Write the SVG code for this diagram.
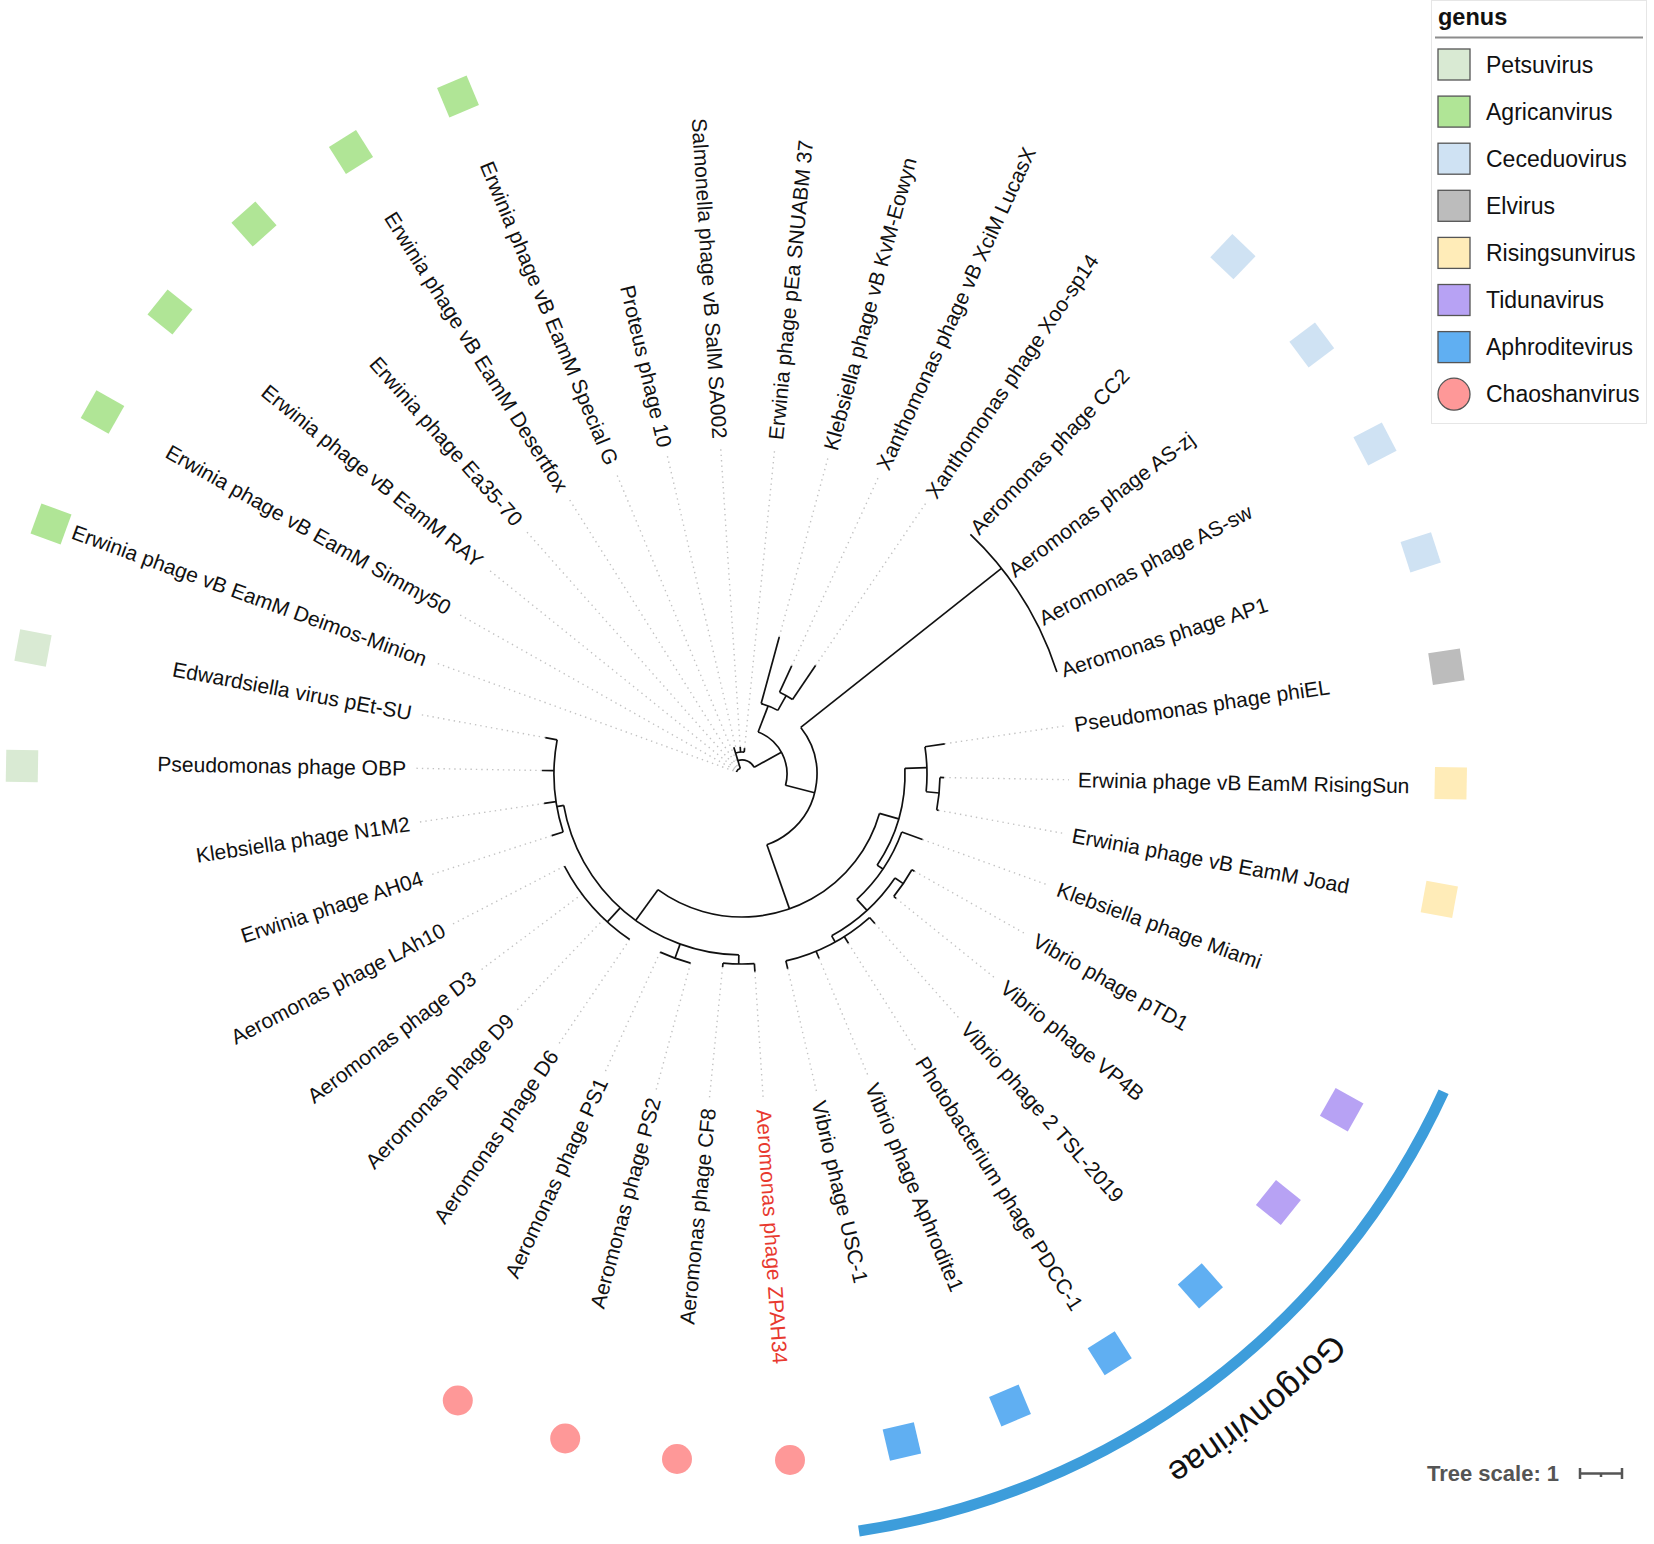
<svg xmlns="http://www.w3.org/2000/svg" width="1654" height="1544" viewBox="0 0 1654 1544">
<style>
text{font-family:"Liberation Sans",Arial,sans-serif}
.lb text{font-size:21px;fill:#111;dominant-baseline:central}
.l{text-anchor:start}
.r{text-anchor:end}
.br line,.br circle{fill:none;stroke:#111;stroke-width:1.7}
.dt line{stroke:#c2c2c2;stroke-width:1.4;stroke-dasharray:1.4 4}
.pe{fill:#d9ead3}.ag{fill:#b0e596}.ce{fill:#cfe2f3}.el{fill:#bcbcbc}.rs{fill:#ffecb8}.ti{fill:#b7a2f4}.ap{fill:#60aff2}.ch{fill:#fe9898}
.sw{stroke:#555;stroke-width:1.3}
.lg{font-size:23px;fill:#111}
</style>
<rect width="1654" height="1544" fill="#fff"/>

<g id="connectors" transform="translate(742 774)">
<g class="dt">
<line x1="202" x2="327" transform="rotate(1)"/>
<line x1="200" x2="327" transform="rotate(10.47)"/>
<line x1="192" x2="327" transform="rotate(19.95)"/>
<line x1="198" x2="327" transform="rotate(29.42)"/>
<line x1="198" x2="327" transform="rotate(38.89)"/>
<line x1="200" x2="327" transform="rotate(48.37)"/>
<line x1="200" x2="327" transform="rotate(57.84)"/>
<line x1="200" x2="327" transform="rotate(67.32)"/>
<line x1="200" x2="327" transform="rotate(76.79)"/>
<line x1="198" x2="327" transform="rotate(86.26)"/>
<line x1="194" x2="327" transform="rotate(95.74)"/>
<line x1="196" x2="327" transform="rotate(105.21)"/>
<line x1="196" x2="327" transform="rotate(114.68)"/>
<line x1="200" x2="327" transform="rotate(124.16)"/>
<line x1="200" x2="327" transform="rotate(133.63)"/>
<line x1="200" x2="327" transform="rotate(143.11)"/>
<line x1="200" x2="327" transform="rotate(152.58)"/>
<line x1="200" x2="327" transform="rotate(162.05)"/>
<line x1="200" x2="327" transform="rotate(171.53)"/>
<line x1="200" x2="327" transform="rotate(181)"/>
<line x1="200" x2="327" transform="rotate(190.47)"/>
<line x1="9" x2="327" transform="rotate(199.95)"/>
<line x1="9" x2="327" transform="rotate(209.42)"/>
<line x1="9" x2="327" transform="rotate(218.89)"/>
<line x1="9" x2="327" transform="rotate(228.37)"/>
<line x1="9" x2="327" transform="rotate(237.84)"/>
<line x1="9" x2="327" transform="rotate(247.32)"/>
<line x1="28" x2="327" transform="rotate(256.79)"/>
<line x1="27" x2="327" transform="rotate(266.26)"/>
<line x1="26" x2="327" transform="rotate(275.74)"/>
<line x1="142" x2="327" transform="rotate(285.21)"/>
<line x1="119" x2="327" transform="rotate(294.68)"/>
<line x1="131" x2="327" transform="rotate(304.16)"/>
<line x1="205" x2="327" transform="rotate(351.53)"/>
</g>
<g class="br">
<line x1="14" x2="45" transform="rotate(331)"/>
<circle r="14" stroke-dasharray="19.06 3000" transform="rotate(253)"/>
<line x1="6" x2="28" transform="rotate(253)"/>
<circle r="22" stroke-dasharray="8.73 3000" transform="rotate(253)"/>
<line x1="22" x2="27" transform="rotate(266.26)"/>
<line x1="22" x2="26" transform="rotate(275.74)"/>
<circle r="6" stroke-dasharray="5.56 3000" transform="rotate(199.95)"/>
<circle r="45" stroke-dasharray="65.58 3000" transform="rotate(291)"/>
<line x1="45" x2="73" transform="rotate(291)"/>
<circle r="73" stroke-dasharray="18.08 3000" transform="rotate(285.21)"/>
<line x1="73" x2="142" transform="rotate(285.21)"/>
<line x1="73" x2="90" transform="rotate(299.4)"/>
<circle r="90" stroke-dasharray="14.89 3000" transform="rotate(294.68)"/>
<line x1="90" x2="119" transform="rotate(294.68)"/>
<line x1="90" x2="131" transform="rotate(304.16)"/>
<line x1="45" x2="75" transform="rotate(14.5)"/>
<circle r="75" stroke-dasharray="142.68 3000" transform="rotate(321.6)"/>
<line x1="75" x2="331" transform="rotate(321.6)"/>
<circle r="331" stroke-dasharray="164.19 3000" transform="rotate(313.63)"/>
<line x1="75" x2="143" transform="rotate(70.6)"/>
<circle r="143" stroke-dasharray="274.53 3000" transform="rotate(16)"/>
<line x1="143" x2="181" transform="rotate(126)"/>
<circle r="181" stroke-dasharray="249.57 3000" transform="rotate(91)"/>
<line x1="181" x2="188" transform="rotate(170)"/>
<circle r="188" stroke-dasharray="93.25 3000" transform="rotate(162.05)"/>
<line x1="188" x2="200" transform="rotate(162.05)"/>
<line x1="188" x2="200" transform="rotate(171.53)"/>
<line x1="188" x2="200" transform="rotate(181)"/>
<line x1="188" x2="200" transform="rotate(190.47)"/>
<line x1="181" x2="200" transform="rotate(132.3)"/>
<circle r="200" stroke-dasharray="99.21 3000" transform="rotate(124.16)"/>
<line x1="181" x2="196" transform="rotate(110)"/>
<circle r="196" stroke-dasharray="32.4 3000" transform="rotate(105.21)"/>
<line x1="181" x2="190" transform="rotate(91)"/>
<circle r="190" stroke-dasharray="31.44 3000" transform="rotate(86.26)"/>
<line x1="190" x2="198" transform="rotate(86.26)"/>
<line x1="190" x2="194" transform="rotate(95.74)"/>
<line x1="143" x2="163" transform="rotate(16)"/>
<circle r="163" stroke-dasharray="102.42 3000" transform="rotate(358)"/>
<line x1="163" x2="185" transform="rotate(358)"/>
<circle r="185" stroke-dasharray="45.11 3000" transform="rotate(351.53)"/>
<line x1="185" x2="205" transform="rotate(351.53)"/>
<line x1="185" x2="198" transform="rotate(5.5)"/>
<circle r="198" stroke-dasharray="32.73 3000" transform="rotate(1)"/>
<line x1="198" x2="202" transform="rotate(1)"/>
<line x1="198" x2="200" transform="rotate(10.47)"/>
<line x1="163" x2="170" transform="rotate(34)"/>
<circle r="170" stroke-dasharray="81.74 3000" transform="rotate(19.95)"/>
<line x1="170" x2="192" transform="rotate(19.95)"/>
<line x1="170" x2="185" transform="rotate(47.5)"/>
<circle r="185" stroke-dasharray="86.53 3000" transform="rotate(34.2)"/>
<line x1="185" x2="195" transform="rotate(34.2)"/>
<circle r="195" stroke-dasharray="32.23 3000" transform="rotate(29.42)"/>
<line x1="195" x2="198" transform="rotate(29.42)"/>
<line x1="195" x2="198" transform="rotate(38.89)"/>
<line x1="185" x2="192" transform="rotate(61)"/>
<circle r="192" stroke-dasharray="95.24 3000" transform="rotate(48.37)"/>
<line x1="192" x2="200" transform="rotate(48.37)"/>
<line x1="192" x2="200" transform="rotate(57.84)"/>
<line x1="192" x2="200" transform="rotate(67.32)"/>
<line x1="192" x2="200" transform="rotate(76.79)"/>
</g>
</g>

<g class="lb">
<g id="leaf-RisingSun"><text class="l" transform="translate(742 774) rotate(1) translate(336 0)">Erwinia phage vB EamM RisingSun</text><rect class="rs" x="-16" y="-16" width="32" height="32" transform="translate(1450.7 783.3) rotate(1)"/></g>
<g id="leaf-Joad"><text class="l" transform="translate(742 774) rotate(10.47) translate(336 0)">Erwinia phage vB EamM Joad</text><rect class="rs" x="-16" y="-16" width="32" height="32" transform="translate(1439.3 899.3) rotate(10.47)"/></g>
<g id="leaf-Miami"><text class="l" transform="translate(742 774) rotate(19.95) translate(336 0)">Klebsiella phage Miami</text></g>
<g id="leaf-pTD1"><text class="l" transform="translate(742 774) rotate(29.42) translate(336 0)">Vibrio phage pTD1</text><rect class="ti" x="-16" y="-16" width="32" height="32" transform="translate(1341.7 1109.7) rotate(29.42)"/></g>
<g id="leaf-VP4B"><text class="l" transform="translate(742 774) rotate(38.89) translate(336 0)">Vibrio phage VP4B</text><rect class="ti" x="-16" y="-16" width="32" height="32" transform="translate(1278.4 1202.5) rotate(38.89)"/></g>
<g id="leaf-TSL2019"><text class="l" transform="translate(742 774) rotate(48.37) translate(336 0)">Vibrio phage 2 TSL-2019</text><rect class="ap" x="-16" y="-16" width="32" height="32" transform="translate(1200.4 1285.8) rotate(48.37)"/></g>
<g id="leaf-PDCC1"><text class="l" transform="translate(742 774) rotate(57.84) translate(336 0)">Photobacterium phage PDCC-1</text><rect class="ap" x="-16" y="-16" width="32" height="32" transform="translate(1109.7 1353.3) rotate(57.84)"/></g>
<g id="leaf-Aphrodite1"><text class="l" transform="translate(742 774) rotate(67.32) translate(336 0)">Vibrio phage Aphrodite1</text><rect class="ap" x="-16" y="-16" width="32" height="32" transform="translate(1010 1405.5) rotate(67.32)"/></g>
<g id="leaf-USC1"><text class="l" transform="translate(742 774) rotate(76.79) translate(336 0)">Vibrio phage USC-1</text><rect class="ap" x="-16" y="-16" width="32" height="32" transform="translate(901.9 1441.5) rotate(76.79)"/></g>
<g id="leaf-ZPAH34"><text class="l" style="fill:#e8392f" transform="translate(742 774) rotate(86.26) translate(336 0)">Aeromonas phage ZPAH34</text><circle class="ch" r="15" cx="790" cy="1460"/></g>
<g id="leaf-CF8"><text class="r" transform="translate(742 774) rotate(95.74) translate(336 0) rotate(180)">Aeromonas phage CF8</text><circle class="ch" r="15" cx="677" cy="1459"/></g>
<g id="leaf-PS2"><text class="r" transform="translate(742 774) rotate(105.21) translate(336 0) rotate(180)">Aeromonas phage PS2</text><circle class="ch" r="15" cx="565.2" cy="1438.5"/></g>
<g id="leaf-PS1"><text class="r" transform="translate(742 774) rotate(114.68) translate(336 0) rotate(180)">Aeromonas phage PS1</text><circle class="ch" r="15" cx="457.8" cy="1400.5"/></g>
<g id="leaf-D6"><text class="r" transform="translate(742 774) rotate(124.16) translate(336 0) rotate(180)">Aeromonas phage D6</text></g>
<g id="leaf-D9"><text class="r" transform="translate(742 774) rotate(133.63) translate(336 0) rotate(180)">Aeromonas phage D9</text></g>
<g id="leaf-D3"><text class="r" transform="translate(742 774) rotate(143.11) translate(336 0) rotate(180)">Aeromonas phage D3</text></g>
<g id="leaf-LAh10"><text class="r" transform="translate(742 774) rotate(152.58) translate(336 0) rotate(180)">Aeromonas phage LAh10</text></g>
<g id="leaf-AH04"><text class="r" transform="translate(742 774) rotate(162.05) translate(336 0) rotate(180)">Erwinia phage AH04</text></g>
<g id="leaf-N1M2"><text class="r" transform="translate(742 774) rotate(171.53) translate(336 0) rotate(180)">Klebsiella phage N1M2</text></g>
<g id="leaf-OBP"><text class="r" transform="translate(742 774) rotate(181) translate(336 0) rotate(180)">Pseudomonas phage OBP</text><rect class="pe" x="-16" y="-16" width="32" height="32" transform="translate(22 766) rotate(181)"/></g>
<g id="leaf-pEtSU"><text class="r" transform="translate(742 774) rotate(190.47) translate(336 0) rotate(180)">Edwardsiella virus pEt-SU</text><rect class="pe" x="-16" y="-16" width="32" height="32" transform="translate(33 648) rotate(190.47)"/></g>
<g id="leaf-DeimosMinion"><text class="r" transform="translate(742 774) rotate(199.95) translate(336 0) rotate(180)">Erwinia phage vB EamM Deimos-Minion</text><rect class="ag" x="-16" y="-16" width="32" height="32" transform="translate(51 524) rotate(199.95)"/></g>
<g id="leaf-Simmy50"><text class="r" transform="translate(742 774) rotate(209.42) translate(336 0) rotate(180)">Erwinia phage vB EamM Simmy50</text><rect class="ag" x="-16" y="-16" width="32" height="32" transform="translate(102.5 412) rotate(209.42)"/></g>
<g id="leaf-RAY"><text class="r" transform="translate(742 774) rotate(218.89) translate(336 0) rotate(180)">Erwinia phage vB EamM RAY</text><rect class="ag" x="-16" y="-16" width="32" height="32" transform="translate(170 312) rotate(218.89)"/></g>
<g id="leaf-Ea3570"><text class="r" transform="translate(742 774) rotate(228.37) translate(336 0) rotate(180)">Erwinia phage Ea35-70</text><rect class="ag" x="-16" y="-16" width="32" height="32" transform="translate(254 224) rotate(228.37)"/></g>
<g id="leaf-Desertfox"><text class="r" transform="translate(742 774) rotate(237.84) translate(336 0) rotate(180)">Erwinia phage vB EamM Desertfox</text><rect class="ag" x="-16" y="-16" width="32" height="32" transform="translate(351 152) rotate(237.84)"/></g>
<g id="leaf-SpecialG"><text class="r" transform="translate(742 774) rotate(247.32) translate(336 0) rotate(180)">Erwinia phage vB EamM Special G</text><rect class="ag" x="-16" y="-16" width="32" height="32" transform="translate(458 96.5) rotate(247.32)"/></g>
<g id="leaf-Proteus10"><text class="r" transform="translate(742 774) rotate(256.79) translate(336 0) rotate(180)">Proteus phage 10</text></g>
<g id="leaf-SA002"><text class="r" transform="translate(742 774) rotate(266.26) translate(336 0) rotate(180)">Salmonella phage vB SalM SA002</text></g>
<g id="leaf-pEa"><text class="l" transform="translate(742 774) rotate(275.74) translate(336 0)">Erwinia phage pEa SNUABM 37</text></g>
<g id="leaf-KvMEowyn"><text class="l" transform="translate(742 774) rotate(285.21) translate(336 0)">Klebsiella phage vB KvM-Eowyn</text></g>
<g id="leaf-LucasX"><text class="l" transform="translate(742 774) rotate(294.68) translate(336 0)">Xanthomonas phage vB XciM LucasX</text></g>
<g id="leaf-Xoosp14"><text class="l" transform="translate(742 774) rotate(304.16) translate(336 0)">Xanthomonas phage Xoo-sp14</text></g>
<g id="leaf-CC2"><text class="l" transform="translate(742 774) rotate(313.63) translate(336 0)">Aeromonas phage CC2</text><rect class="ce" x="-16" y="-16" width="32" height="32" transform="translate(1232.9 256.7) rotate(313.63)"/></g>
<g id="leaf-ASzj"><text class="l" transform="translate(742 774) rotate(323.11) translate(336 0)">Aeromonas phage AS-zj</text><rect class="ce" x="-16" y="-16" width="32" height="32" transform="translate(1311.8 345) rotate(323.11)"/></g>
<g id="leaf-ASsw"><text class="l" transform="translate(742 774) rotate(332.58) translate(336 0)">Aeromonas phage AS-sw</text><rect class="ce" x="-16" y="-16" width="32" height="32" transform="translate(1375 444) rotate(332.58)"/></g>
<g id="leaf-AP1"><text class="l" transform="translate(742 774) rotate(342.05) translate(336 0)">Aeromonas phage AP1</text><rect class="ce" x="-16" y="-16" width="32" height="32" transform="translate(1420.7 552.3) rotate(342.05)"/></g>
<g id="leaf-phiEL"><text class="l" transform="translate(742 774) rotate(351.53) translate(336 0)">Pseudomonas phage phiEL</text><rect class="el" x="-16" y="-16" width="32" height="32" transform="translate(1446.4 666.7) rotate(351.53)"/></g>
</g>

<g id="gorgonvirinae">
<path d="M1443.6 1091.7 A769 769 0 0 1 858.9 1531" fill="none" stroke="#3d9ddb" stroke-width="11"/>
<path id="gp" d="M1445.2 1180 A812 812 0 0 1 992.9 1546.3" fill="none"/>
<text font-size="34" fill="#111"><textPath href="#gp" startOffset="50%" text-anchor="middle">Gorgonvirinae</textPath></text>
</g>

<g id="legend">
<rect x="1431.5" y="0.5" width="215" height="423" fill="#fff" stroke="#e6e6e6"/>
<text x="1438" y="25" font-weight="bold" font-size="23.5" fill="#111">genus</text>
<line x1="1435" y1="37.5" x2="1643" y2="37.5" stroke="#8c8c8c" stroke-width="2"/>
<rect class="pe sw" x="1438" y="49" width="32" height="31"/><text class="lg" x="1486" y="72.5">Petsuvirus</text>
<rect class="ag sw" x="1438" y="96.1" width="32" height="31"/><text class="lg" x="1486" y="119.6">Agricanvirus</text>
<rect class="ce sw" x="1438" y="143.2" width="32" height="31"/><text class="lg" x="1486" y="166.7">Ceceduovirus</text>
<rect class="el sw" x="1438" y="190.3" width="32" height="31"/><text class="lg" x="1486" y="213.8">Elvirus</text>
<rect class="rs sw" x="1438" y="237.4" width="32" height="31"/><text class="lg" x="1486" y="260.9">Risingsunvirus</text>
<rect class="ti sw" x="1438" y="284.5" width="32" height="31"/><text class="lg" x="1486" y="308">Tidunavirus</text>
<rect class="ap sw" x="1438" y="331.6" width="32" height="31"/><text class="lg" x="1486" y="355.1">Aphroditevirus</text>
<circle class="ch sw" cx="1454" cy="394.2" r="16"/><text class="lg" x="1486" y="402.2">Chaoshanvirus</text>
</g>

<g id="scale">
<text x="1427" y="1480.5" font-weight="bold" font-size="22" fill="#555">Tree scale: 1</text>
<path d="M1580 1468v11M1580 1473.5H1622M1622 1468v11M1601 1473.5v3.5" stroke="#555" stroke-width="2.5" fill="none"/>
</g>
</svg>
